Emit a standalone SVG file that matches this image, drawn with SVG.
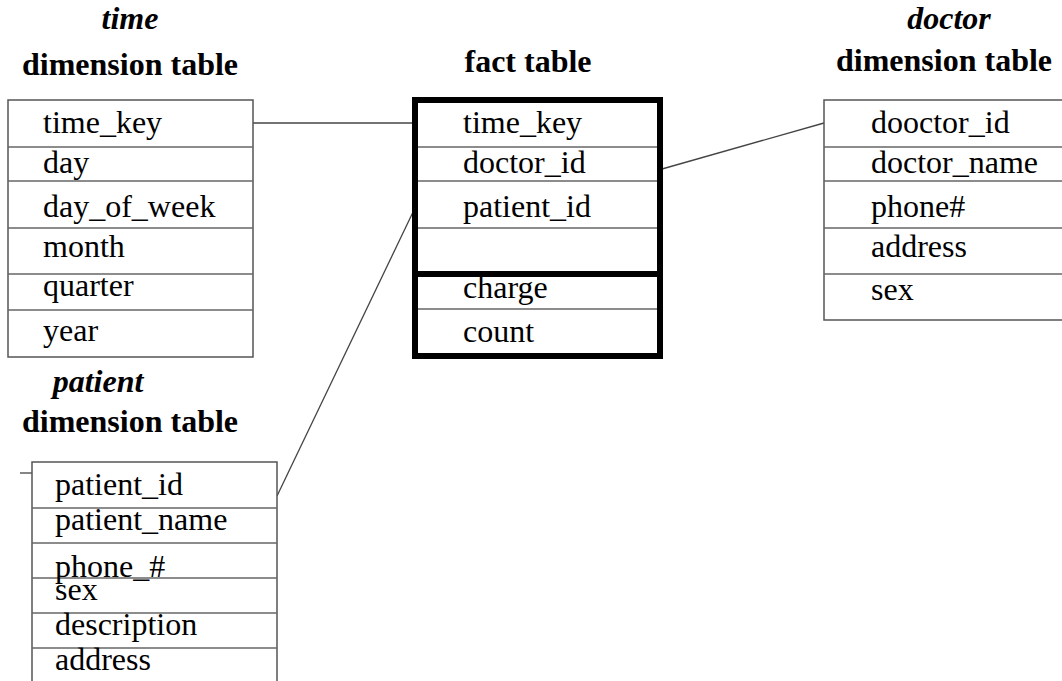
<svg xmlns="http://www.w3.org/2000/svg" width="1062" height="681" viewBox="0 0 1062 681">
<style>
.bg{fill:#fff}
.row{font-family:"Liberation Serif","Times New Roman",serif;font-size:32px;fill:#000}
.hd{font-family:"Liberation Serif","Times New Roman",serif;font-size:32px;font-weight:bold;fill:#000;text-anchor:middle}
.it{font-style:italic}
.box{fill:#fff;stroke:#555;stroke-width:1.5}
.sep{stroke:#666;stroke-width:1.5}
.thick{fill:none;stroke:#000;stroke-width:6}
.conn{stroke:#444;stroke-width:1.3;fill:none}
</style>
<rect class="bg" x="0" y="0" width="1062" height="681"/>

<g id="connectors">
<line class="conn" x1="253" y1="123" x2="415" y2="123"/>
<line class="conn" x1="662" y1="169" x2="824" y2="123"/>
<line class="conn" x1="277" y1="496" x2="414" y2="210"/>
<line class="conn" x1="20" y1="473" x2="32" y2="473"/>
</g>

<g id="time-dimension">
<text class="hd it" x="130" y="29">time</text>
<text class="hd" x="130" y="75">dimension table</text>
<rect class="box" x="8" y="100" width="245" height="257"/>
<line class="sep" x1="8" y1="147" x2="253" y2="147"/>
<line class="sep" x1="8" y1="181" x2="253" y2="181"/>
<line class="sep" x1="8" y1="228" x2="253" y2="228"/>
<line class="sep" x1="8" y1="274" x2="253" y2="274"/>
<line class="sep" x1="8" y1="310" x2="253" y2="310"/>
<text class="row" x="43" y="133">time_key</text>
<text class="row" x="43" y="173">day</text>
<text class="row" x="43" y="217">day_of_week</text>
<text class="row" x="43" y="257">month</text>
<text class="row" x="43" y="296">quarter</text>
<text class="row" x="43" y="341">year</text>
</g>

<g id="fact-table">
<text class="hd" x="528" y="72">fact table</text>
<rect x="415" y="100" width="245" height="256" fill="#fff"/>
<line class="sep" x1="415" y1="147" x2="660" y2="147"/>
<line class="sep" x1="415" y1="181" x2="660" y2="181"/>
<line class="sep" x1="415" y1="228" x2="660" y2="228"/>
<line class="sep" x1="415" y1="309" x2="660" y2="309"/>
<line class="thick" x1="415" y1="274" x2="660" y2="274"/>
<rect class="thick" x="415" y="100" width="245" height="256"/>
<text class="row" x="463" y="133">time_key</text>
<text class="row" x="463" y="173">doctor_id</text>
<text class="row" x="463" y="217">patient_id</text>
<text class="row" x="463" y="298">charge</text>
<text class="row" x="463" y="342">count</text>
</g>

<g id="doctor-dimension">
<text class="hd it" x="949" y="29">doctor</text>
<text class="hd" x="944" y="71">dimension table</text>
<rect class="box" x="824" y="100" width="250" height="220"/>
<line class="sep" x1="824" y1="147" x2="1074" y2="147"/>
<line class="sep" x1="824" y1="181" x2="1074" y2="181"/>
<line class="sep" x1="824" y1="228" x2="1074" y2="228"/>
<line class="sep" x1="824" y1="274" x2="1074" y2="274"/>
<text class="row" x="871" y="133">dooctor_id</text>
<text class="row" x="871" y="173">doctor_name</text>
<text class="row" x="871" y="217">phone#</text>
<text class="row" x="871" y="257">address</text>
<text class="row" x="871" y="300">sex</text>
</g>

<g id="patient-dimension">
<text class="hd it" x="98" y="392">patient</text>
<text class="hd" x="130" y="432">dimension table</text>
<rect class="box" x="32" y="462" width="245" height="230"/>
<line class="sep" x1="32" y1="508" x2="277" y2="508"/>
<line class="sep" x1="32" y1="543" x2="277" y2="543"/>
<line class="sep" x1="32" y1="578" x2="277" y2="578"/>
<line class="sep" x1="32" y1="613" x2="277" y2="613"/>
<line class="sep" x1="32" y1="648" x2="277" y2="648"/>
<text class="row" x="55" y="495">patient_id</text>
<text class="row" x="55" y="530">patient_name</text>
<text class="row" x="55" y="577">phone_#</text>
<text class="row" x="55" y="600">sex</text>
<text class="row" x="55" y="635">description</text>
<text class="row" x="55" y="670">address</text>
</g>
</svg>
